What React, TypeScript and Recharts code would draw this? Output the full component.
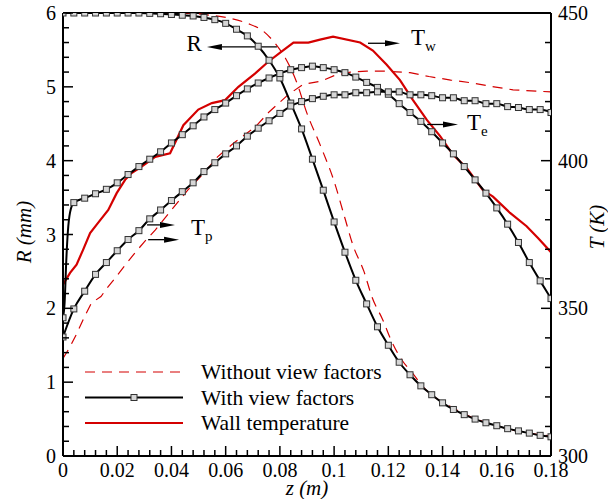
import React from 'react';
import { LineChart, Line, XAxis, YAxis, ReferenceLine, Legend } from 'recharts';

const SERIF = "'Liberation Serif', 'Times New Roman', serif";
const RED = '#d40000';

// axial stations where the "with view factors" solution carries a marker
const zMarks = [
  0, 0.004, 0.008, 0.012, 0.016, 0.02, 0.024, 0.028, 0.032, 0.036, 0.04, 0.044, 0.048, 0.052, 0.056,
  0.06, 0.064, 0.068, 0.072, 0.076, 0.08, 0.084, 0.088, 0.092, 0.096, 0.1, 0.104, 0.108, 0.112, 0.116,
  0.12, 0.124, 0.128, 0.132, 0.136, 0.14, 0.144, 0.148, 0.152, 0.156, 0.16, 0.164, 0.168, 0.172, 0.176, 0.18,
];

// with view factors
const radiusWith = [
  6, 6, 6, 6, 6, 6, 6, 6, 5.995, 5.99, 5.98, 5.97, 5.96, 5.94, 5.91, 5.86, 5.78, 5.69, 5.55, 5.36,
  5.12, 4.78, 4.43, 4.02, 3.6, 3.17, 2.76, 2.38, 2.06, 1.75, 1.5, 1.27, 1.1, 0.95, 0.83, 0.72, 0.63,
  0.56, 0.5, 0.45, 0.41, 0.37, 0.34, 0.31, 0.28, 0.26,
];
const teWith = [
  346.8, 385.8, 387.3, 388.8, 390.3, 392.5, 395.3, 398, 400.5, 403, 406, 408.8, 411.8, 414.8, 417.3,
  419.5, 422, 424.3, 426.3, 428, 429.5, 430.8, 431.5, 432, 431.5, 430.8, 429.8, 428.3, 426.5, 424.8,
  422.5, 419.3, 416.3, 413.3, 409.8, 406, 402.3, 398, 393.5, 389, 384, 378.5, 372.3, 365.5, 359.3, 353.3,
];
const tpWith = [
  340.3, 349.8, 355.8, 361.5, 365.5, 369.5, 373.3, 376.3, 380.3, 383.3, 386.5, 389.5, 392.5, 396.3, 399.3,
  402.3, 405, 408.3, 411, 413.5, 416, 418.5, 420, 421, 421.8, 422.3, 422.3, 423, 423, 423.3, 423.3, 423.3,
  422.3, 422.3, 422, 421.3, 421.3, 420.3, 420.3, 419.3, 419.3, 418.3, 418, 417.3, 417.3, 416.3,
];
// steep entrance rise of Te (no markers)
const teRiseZ = [0.0006, 0.0012, 0.0018, 0.0026];
const teRiseT = [352, 366, 376, 382.5];

// without view factors
const zNoVfR = [
  0, 0.046, 0.054, 0.06, 0.068, 0.074, 0.078, 0.082, 0.086, 0.09, 0.095, 0.1, 0.104, 0.107, 0.111, 0.114,
  0.118, 0.121, 0.125, 0.129, 0.133, 0.137, 0.142, 0.148, 0.154, 0.16, 0.166, 0.172, 0.18,
];
const radiusNoVf = [
  6, 6, 5.97, 5.94, 5.86, 5.75, 5.6, 5.39, 5.08, 4.64, 4.2, 3.72, 3.22, 2.85, 2.5, 2.15,
  1.84, 1.57, 1.3, 1.12, 0.93, 0.8, 0.69, 0.57, 0.48, 0.41, 0.35, 0.31, 0.27,
];
const zNoVfT = [
  0, 0.0026, 0.005, 0.008, 0.0105, 0.014, 0.0166, 0.019, 0.0235, 0.027, 0.03, 0.034, 0.04, 0.046, 0.052,
  0.057, 0.063, 0.071, 0.076, 0.083, 0.0885, 0.0955, 0.1, 0.106, 0.112, 0.119, 0.128, 0.135, 0.143, 0.151,
  0.159, 0.166, 0.175, 0.18,
];
const tpNoVf = [
  333, 337, 341.3, 347.3, 351.8, 354, 357.3, 360, 365.3, 369.3, 372.5, 376.5, 383.3, 390, 395.8,
  401.3, 406, 411.5, 416.5, 422.3, 425.8, 427, 428.8, 430, 430.3, 430.3, 429.8, 428.5, 427.3, 426.3,
  425, 424, 423.5, 423.3,
];

// wall temperature
const zWall = [
  0, 0.0026, 0.005, 0.0074, 0.01, 0.013, 0.0167, 0.0198, 0.0229, 0.0253, 0.029, 0.034, 0.0395, 0.0444,
  0.0499, 0.0549, 0.0598, 0.0647, 0.0708, 0.0757, 0.0807, 0.085, 0.0905, 0.0948, 0.0996, 0.1096, 0.1143,
  0.1194, 0.1243, 0.1291, 0.1342, 0.1391, 0.1439, 0.1489, 0.1549, 0.1586, 0.1649, 0.171, 0.1752, 0.18,
];
const tWall = [
  358, 362, 364.8, 369.8, 375.5, 379, 383.3, 389, 393.5, 395.8, 398, 401.3, 402.5, 412,
  417.3, 419.5, 420.5, 425, 429.5, 433.5, 437, 440, 440, 441, 442, 440, 437.3,
  432.5, 427.3, 420.5, 413.8, 408.3, 402, 397.5, 390, 387.8, 382.3, 377.8, 373.8, 369,
];

// axis ticks
const xTicks = zMarks;
const rTicks = [
  0, 0.2, 0.4, 0.6, 0.8, 1, 1.2, 1.4, 1.6, 1.8, 2, 2.2, 2.4, 2.6, 2.8, 3, 3.2, 3.4, 3.6, 3.8, 4,
  4.2, 4.4, 4.6, 4.8, 5, 5.2, 5.4, 5.6, 5.8, 6,
];
const tTicks = [300, 310, 320, 330, 340, 350, 360, 370, 380, 390, 400, 410, 420, 430, 440, 450];

const legendItems = [
  { name: 'Without view factors', color: RED, dash: '10 7', width: 1.2, marker: false },
  { name: 'With view factors', color: '#000', dash: undefined, width: 2.2, marker: true },
  { name: 'Wall temperature', color: RED, dash: undefined, width: 2.2, marker: false },
];

type Arrow = { from: [number, number]; to: [number, number]; label: string; sub: string; dx: number; dy: number };
const arrows: Arrow[] = [
  { from: [0.0789, 5.54], to: [0.0531, 5.54], label: 'R', sub: '', dx: -5, dy: 4 },
  { from: [0.1125, 5.59], to: [0.1243, 5.59], label: 'T', sub: 'w', dx: 11, dy: 2 },
  { from: [0.1343, 4.49], to: [0.1457, 4.49], label: 'T', sub: 'e', dx: 9, dy: 6 },
  { from: [0.031, 3.13], to: [0.0413, 3.13], label: 'T', sub: 'p', dx: 16, dy: 10 },
  { from: [0.0314, 2.93], to: [0.0428, 2.93], label: '', sub: '', dx: 0, dy: 0 },
];

const zip = (zs: number[], vs: number[]) => zs.map((z, i) => ({ z, v: vs[i] }));
const radiusWithData = zip(zMarks, radiusWith);
const tpWithData = zip(zMarks, tpWith);
const teWithData = [
  { z: zMarks[0], v: teWith[0] },
  ...teRiseZ.map((z, i) => ({ z, v: teRiseT[i], skip: true })),
  ...zMarks.slice(1).map((z, i) => ({ z, v: teWith[i + 1] })),
];
const radiusNoVfData = zip(zNoVfR, radiusNoVf);
const tpNoVfData = zip(zNoVfT, tpNoVf);
const wallData = zip(zWall, tWall);

const isMajor = (v: number, step: number) => Math.abs(v / step - Math.round(v / step)) < 1e-6;

const XTick = (p: any) => {
  const { x, y, payload } = p;
  const major = isMajor(payload.value, 0.02);
  return (
    <g>
      <line x1={x} x2={x} y1={y} y2={y - (major ? 10 : 6)} stroke="#000" strokeWidth={1.5} />
      {major && (
        <text x={x} y={y + 21} textAnchor="middle" fontSize={20} fontFamily={SERIF} fill="#000">
          {String(Number(payload.value.toFixed(3)))}
        </text>
      )}
    </g>
  );
};

const RTick = (p: any) => {
  const { x, y, payload } = p;
  const major = isMajor(payload.value, 1);
  return (
    <g>
      <line x1={x} x2={x + (major ? 10 : 6)} y1={y} y2={y} stroke="#000" strokeWidth={1.5} />
      {major && (
        <text x={x - 7} y={y + 7} textAnchor="end" fontSize={20} fontFamily={SERIF} fill="#000">
          {Math.round(payload.value)}
        </text>
      )}
    </g>
  );
};

const TTick = (p: any) => {
  const { x, y, payload } = p;
  const major = isMajor(payload.value, 50);
  return (
    <g>
      <line x1={x} x2={x - (major ? 10 : 6)} y1={y} y2={y} stroke="#000" strokeWidth={1.5} />
      {major && (
        <text x={x + 7} y={y + 7} textAnchor="start" fontSize={20} fontFamily={SERIF} fill="#000">
          {payload.value}
        </text>
      )}
    </g>
  );
};

const squareDot = (p: any) => {
  const { cx, cy, payload, index } = p;
  if (payload?.skip || cx == null || cy == null) return <g key={`n${index}`} />;
  return (
    <rect key={`s${index}`} x={cx - 3} y={cy - 3} width={6} height={6} fill="#d6d6d6" stroke="#333" strokeWidth={1} />
  );
};

const arrowShape = (a: Arrow) => (p: any) => {
  const { x1, y1, x2, y2 } = p;
  const dir = x2 > x1 ? 1 : -1;
  const bx = x2 - dir * 15;
  return (
    <g>
      <line x1={x1} y1={y1} x2={bx} y2={y2} stroke="#000" strokeWidth={1.3} />
      <polygon points={`${x2},${y2} ${bx},${y2 - 3} ${bx},${y2 + 3}`} fill="#000" />
      {a.label && (
        <text x={x2 + a.dx} y={y2 + a.dy} textAnchor={dir > 0 ? 'start' : 'end'} fontSize={23} fontFamily={SERIF} fill="#000">
          {a.label}
          {a.sub && (
            <tspan dy={6} fontSize={15}>
              {a.sub}
            </tspan>
          )}
        </text>
      )}
    </g>
  );
};

const LegendBox = () => (
  <svg width={320} height={80} style={{ display: 'block' }}>
    {legendItems.map((it, i) => {
      const cy = 14 + i * 25.5;
      return (
        <g key={it.name}>
          <line x1={5} x2={103} y1={cy} y2={cy} stroke={it.color} strokeWidth={it.width} strokeDasharray={it.dash} />
          {it.marker && <rect x={51} y={cy - 3} width={6} height={6} fill="#d6d6d6" stroke="#333" strokeWidth={1} />}
          <text x={121} y={cy + 7} fontSize={21.5} fontFamily={SERIF} fill="#000">
            {it.name}
          </text>
        </g>
      );
    })}
  </svg>
);

// plot frame: x 63..551, y 13..456
const PLOT = { left: 63, right: 551, top: 13, bottom: 456 };

const rTitle = () => {
  const cx = 31;
  const cy = 232;
  return (
    <text x={cx} y={cy} transform={`rotate(-90 ${cx} ${cy})`} textAnchor="middle" fontSize={21} fontStyle="italic" fontFamily={SERIF} fill="#000">
      R (mm)
    </text>
  );
};

const tTitle = () => {
  const cx = 604;
  const cy = 227;
  return (
    <text x={cx} y={cy} transform={`rotate(-90 ${cx} ${cy})`} textAnchor="middle" fontSize={21} fontStyle="italic" fontFamily={SERIF} fill="#000">
      T (K)
    </text>
  );
};

const zTitle = () => (
  <text x={(PLOT.left + PLOT.right) / 2} y={495} textAnchor="middle" fontSize={21} fontStyle="italic" fontFamily={SERIF} fill="#000">
    z (m)
  </text>
);

const App: React.FC = () => {
  return (
    <div style={{ position: 'absolute', left: 0, top: 0, background: '#fff' }}>
      <LineChart width={608} height={499} margin={{ top: PLOT.top, right: 7, bottom: 3, left: 23 }}>
        <XAxis
          dataKey="z"
          type="number"
          domain={[0, 0.18]}
          allowDataOverflow
          ticks={xTicks}
          interval={0}
          height={40}
          tickSize={0}
          tickMargin={0}
          tickLine={false}
          tick={XTick}
          axisLine={{ stroke: '#000', strokeWidth: 2 }}
          label={zTitle}
        />
        <YAxis
          yAxisId="R"
          type="number"
          domain={[0, 6]}
          allowDataOverflow
          ticks={rTicks}
          interval={0}
          width={40}
          tickSize={0}
          tickMargin={0}
          tickLine={false}
          tick={RTick}
          axisLine={{ stroke: '#000', strokeWidth: 2 }}
          label={rTitle}
        />
        <YAxis
          yAxisId="T"
          orientation="right"
          type="number"
          domain={[300, 450]}
          allowDataOverflow
          ticks={tTicks}
          interval={0}
          width={50}
          tickSize={0}
          tickMargin={0}
          tickLine={false}
          tick={TTick}
          axisLine={{ stroke: '#000', strokeWidth: 2 }}
          label={tTitle}
        />
        <ReferenceLine yAxisId="R" y={6} stroke="#000" strokeWidth={2} />

        <Line yAxisId="R" data={radiusNoVfData} dataKey="v" type="monotone" stroke={RED} strokeWidth={1.2} strokeDasharray="10 7" dot={false} activeDot={false} isAnimationActive={false} />
        <Line yAxisId="T" data={tpNoVfData} dataKey="v" type="linear" stroke={RED} strokeWidth={1.2} strokeDasharray="10 7" dot={false} activeDot={false} isAnimationActive={false} />
        <Line yAxisId="T" data={wallData} dataKey="v" type="linear" stroke={RED} strokeWidth={2.2} dot={false} activeDot={false} isAnimationActive={false} />
        <Line yAxisId="R" data={radiusWithData} dataKey="v" type="monotone" stroke="#000" strokeWidth={2} dot={squareDot} activeDot={false} isAnimationActive={false} />
        <Line yAxisId="T" data={teWithData} dataKey="v" type="monotone" stroke="#000" strokeWidth={2} dot={squareDot} activeDot={false} isAnimationActive={false} />
        <Line yAxisId="T" data={tpWithData} dataKey="v" type="monotone" stroke="#000" strokeWidth={2} dot={squareDot} activeDot={false} isAnimationActive={false} />

        {arrows.map((a, i) => (
          <ReferenceLine
            key={`arrow-${i}`}
            yAxisId="R"
            segment={[{ x: a.from[0], y: a.from[1] }, { x: a.to[0], y: a.to[1] }]}
            shape={arrowShape(a)}
          />
        ))}

        <Legend
          layout="vertical"
          align="center"
          verticalAlign="middle"
          content={LegendBox}
          wrapperStyle={{ left: 80, top: 358, width: 320, height: 80 }}
        />
      </LineChart>
    </div>
  );
};

export default App;
